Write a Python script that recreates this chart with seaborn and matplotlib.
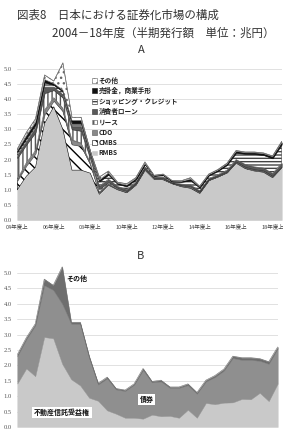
import numpy as np
import matplotlib
matplotlib.use("Agg")
import matplotlib.pyplot as plt
import seaborn as sns
import pandas as pd
from matplotlib.patches import Patch

# ---------------- data ----------------
periods = [f"{y:02d}年度{h}" for y in range(4, 19) for h in ("上", "下")]
tick_labels = ["04年度上", "06年度上", "08年度上", "10年度上", "12年度上", "14年度上", "16年度上", "18年度上"]

# Panel A (by underlying asset), bottom -> top
rmbs   = [1.0, 1.45, 1.75, 3.2, 3.75, 3.0, 1.65, 1.65, 1.55, 0.85, 1.15, 1.0, 0.9, 1.15, 1.65, 1.35, 1.33, 1.2, 1.1, 1.05, 0.88, 1.3, 1.42, 1.55, 1.88, 1.7, 1.62, 1.58, 1.4, 1.72]
cmbs   = [0.3, 0.35, 0.45, 0.3, 0.2, 0.6, 0.85, 0.8, 0.3, 0.05, 0.03, 0.02, 0.02, 0.02, 0.02, 0.01, 0.02, 0.01, 0.02, 0.02, 0.02, 0.02, 0.02, 0.03, 0.03, 0.03, 0.03, 0.03, 0.03, 0.03]
cdo    = [0.05, 0.1, 0.1, 0.15, 0.1, 0.1, 0.15, 0.1, 0.05, 0.02, 0.02, 0.01, 0.01, 0.01, 0.01, 0.01, 0.01, 0.0, 0.01, 0.01, 0.01, 0.0, 0.0, 0.0, 0.01, 0.01, 0.01, 0.01, 0.01, 0.01]
lease  = [0.7, 0.6, 0.6, 0.55, 0.25, 0.35, 0.35, 0.4, 0.15, 0.1, 0.05, 0.03, 0.03, 0.03, 0.03, 0.02, 0.02, 0.01, 0.02, 0.03, 0.02, 0.02, 0.02, 0.02, 0.02, 0.02, 0.02, 0.02, 0.02, 0.02]
consumer = [0.1, 0.1, 0.15, 0.2, 0.1, 0.1, 0.1, 0.15, 0.1, 0.1, 0.1, 0.05, 0.05, 0.05, 0.05, 0.03, 0.04, 0.02, 0.04, 0.05, 0.04, 0.03, 0.04, 0.05, 0.06, 0.08, 0.08, 0.08, 0.08, 0.1]
shopping = [0.1, 0.1, 0.1, 0.15, 0.07, 0.1, 0.1, 0.1, 0.07, 0.15, 0.15, 0.08, 0.1, 0.08, 0.08, 0.04, 0.06, 0.03, 0.07, 0.15, 0.1, 0.1, 0.12, 0.17, 0.22, 0.35, 0.42, 0.43, 0.5, 0.62]
receivables = [0.05, 0.1, 0.1, 0.1, 0.05, 0.05, 0.1, 0.1, 0.05, 0.06, 0.06, 0.03, 0.05, 0.03, 0.03, 0.01, 0.02, 0.02, 0.02, 0.05, 0.03, 0.03, 0.03, 0.04, 0.06, 0.04, 0.05, 0.05, 0.06, 0.07]
others_a = [0.05, 0.1, 0.1, 0.15, 0.08, 0.9, 0.1, 0.1, 0.03, 0.09, 0.06, 0.03, 0.04, 0.03, 0.05, 0.01, 0.02, 0.01, 0.02, 0.04, 0.02, 0.02, 0.02, 0.02, 0.02, 0.02, 0.02, 0.02, 0.02, 0.03]

# Panel B (by legal form), bottom -> top
trust_rights = [1.41, 1.9, 1.65, 2.92, 2.88, 2.05, 1.55, 1.35, 0.95, 0.85, 0.54, 0.43, 0.30, 0.30, 0.27, 0.40, 0.35, 0.36, 0.30, 0.56, 0.30, 0.78, 0.74, 0.79, 0.80, 0.91, 0.90, 1.11, 0.84, 1.41]
bonds = [0.89, 0.95, 1.65, 1.68, 1.57, 1.95, 1.8, 2.0, 1.3, 0.53, 1.04, 0.79, 0.87, 1.07, 1.58, 1.05, 1.13, 0.91, 0.97, 0.80, 0.78, 0.70, 0.88, 1.04, 1.44, 1.27, 1.28, 1.04, 1.21, 1.14]
others_b = [0.05, 0.05, 0.05, 0.2, 0.15, 1.2, 0.05, 0.05, 0.05, 0.04, 0.04, 0.03, 0.03, 0.03, 0.05, 0.03, 0.04, 0.03, 0.03, 0.04, 0.04, 0.04, 0.05, 0.05, 0.06, 0.07, 0.07, 0.07, 0.07, 0.05]

yticks = [0.0, 0.5, 1.0, 1.5, 2.0, 2.5, 3.0, 3.5, 4.0, 4.5, 5.0]

# ---------------- style ----------------
sns.set_theme(style="white")
plt.rcParams['font.family'] = ['Noto Sans CJK JP', 'DejaVu Sans']
plt.rcParams['hatch.linewidth'] = 1.0

fig = plt.figure(figsize=(2.83, 4.30), dpi=100)
fig.patch.set_facecolor("white")

axA = fig.add_axes([0.0611, 0.4884, 0.9343, 0.3863])
axB = fig.add_axes([0.0611, 0.00698, 0.9202, 0.394])

x = np.arange(len(periods))

def style_axis(ax, ymax):
    ax.set_xlim(0, len(periods) - 1)
    ax.set_ylim(0, ymax)
    ax.set_yticks(yticks)
    ax.set_yticklabels([f"{v:.1f}" for v in yticks], fontsize=4.7,
                       color="#555555", family=['Liberation Serif'])
    ax.tick_params(axis='y', length=0, pad=4)
    for y in yticks[1:]:
        ax.axhline(y, color="#dcdcdc", lw=0.6, zorder=0)
    for s in ax.spines.values():
        s.set_visible(False)
    ax.set_facecolor("white")

# ---- Panel A ----
layers_a = [
    ("RMBS", rmbs, dict(facecolor="#c9c9c9", edgecolor="#c9c9c9", hatch=None)),
    ("CMBS", cmbs, dict(facecolor="white", edgecolor="black", hatch="\\\\\\")),
    ("CDO", cdo, dict(facecolor="#8a8a8a", edgecolor="#555555", hatch=None)),
    ("リース", lease, dict(facecolor="white", edgecolor="#555555", hatch="||||")),
    ("消費者ローン", consumer, dict(facecolor="#5a5a5a", edgecolor="#333333", hatch=None)),
    ("ショッピング・クレジット", shopping, dict(facecolor="white", edgecolor="#444444", hatch="-----")),
    ("売掛金，商業手形", receivables, dict(facecolor="#111111", edgecolor="#111111", hatch=None)),
    ("その他", others_a, dict(facecolor="white", edgecolor="#666666", hatch="...")),
]
base = np.zeros(len(x))
handles = []
for name, vals, st in layers_a:
    top = base + np.array(vals)
    axA.fill_between(x, base, top, facecolor=st["facecolor"], edgecolor=st["edgecolor"],
                     hatch=st["hatch"], linewidth=0.4, zorder=2)
    handles.append(Patch(facecolor=st["facecolor"], edgecolor=st["edgecolor"],
                         hatch=st["hatch"], linewidth=0.4, label=name))
    base = top
totals_a = pd.DataFrame({"period": x, "total": base})
sns.lineplot(data=totals_a, x="period", y="total", ax=axA, color="#777777", lw=0.5, zorder=3)
style_axis(axA, 5.5)
axA.axhline(0, color="#aaaaaa", lw=0.6, zorder=4)
axA.set_xticks(x[::4])
axA.set_xticklabels(tick_labels, fontsize=4.0, color="#444444")
axA.tick_params(axis='x', length=0, pad=3)
axA.set_xlabel("")
axA.set_ylabel("")
leg = axA.legend(handles[::-1], [h.get_label() for h in handles[::-1]],
                 loc="upper left", bbox_to_anchor=(0.325, 0.822), bbox_transform=fig.transFigure,
                 fontsize=4.8, frameon=False, handlelength=0.7, handleheight=0.7,
                 handletextpad=0.3, labelspacing=0.5, borderpad=0, borderaxespad=0)
for t in leg.get_texts():
    t.set_fontweight("bold")
    t.set_color("#222222")

# ---- Panel B ----
layers_b = [
    ("不動産信託受益権", trust_rights, "#c9c9c9"),
    ("債券", bonds, "#8f8f8f"),
    ("その他", others_b, "#6e6e6e"),
]
base = np.zeros(len(x))
for name, vals, col in layers_b:
    top = base + np.array(vals)
    axB.fill_between(x, base, top, facecolor=col, edgecolor=col, linewidth=0.3, zorder=2)
    base = top
totals_b = pd.DataFrame({"period": x, "total": base})
sns.lineplot(data=totals_b, x="period", y="total", ax=axB, color="#6e6e6e", lw=0.4, zorder=3)
style_axis(axB, 5.5)
axB.set_xticks([])
axB.set_xlabel("")
axB.set_ylabel("")
box = dict(boxstyle="square,pad=0.25", facecolor="white", edgecolor="none")
axB.text(6.6, 4.82, "その他", fontsize=5, fontweight="bold", ha="center", va="center", color="#111111", zorder=5)
axB.text(14.4, 0.9, "債券", fontsize=5, fontweight="bold", ha="center", va="center", color="#111111", bbox=box, zorder=5)
axB.text(5.0, 0.48, "不動産信託受益権", fontsize=5, fontweight="bold", ha="center", va="center", color="#111111", bbox=box, zorder=5)

# ---- titles ----
fig.text(17 / 283, 1 - 15 / 430, "図表8　日本における証券化市場の構成", fontsize=8.3,
         ha="left", va="center", color="#333333")
fig.text(52 / 283, 1 - 33 / 430, "2004－18年度（半期発行額　単位：兆円）", fontsize=8.3,
         ha="left", va="center", color="#333333")
fig.text(141 / 283, 1 - 50 / 430, "A", fontsize=8, ha="center", va="center", color="#333333")
fig.text(141 / 283, 1 - 256 / 430, "B", fontsize=8, ha="center", va="center", color="#333333")

fig.savefig("out.png", dpi=100, facecolor="white")
